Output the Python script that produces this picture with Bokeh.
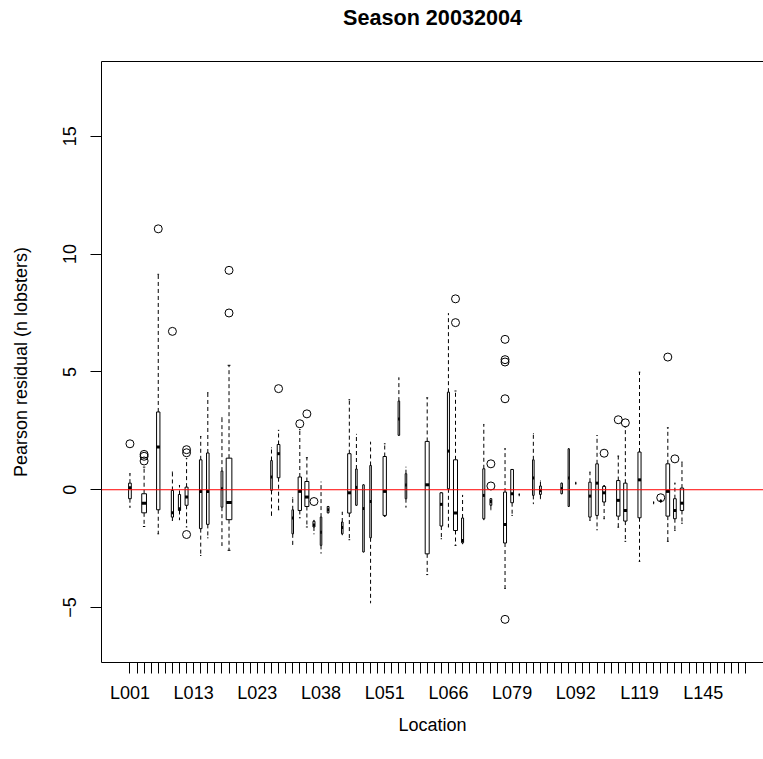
import numpy as np
from bokeh.plotting import figure
from bokeh.models import Range1d, FixedTicker, Span, ColumnDataSource, LinearAxis
from bokeh.embed import file_html
from bokeh.resources import INLINE

# ---------------- data ----------------
title_text = "Season 20032004"
x_title = "Location"
y_title = "Pearson residual (n lobsters)"
n_locations = 88
labelled_locations = {1: "L001", 10: "L013", 19: "L023", 28: "L038", 37: "L051",
                      46: "L066", 55: "L079", 64: "L092", 73: "L119", 82: "L145"}
y_ticks = [-5, 0, 5, 10, 15]

box_loc = [1, 3, 5, 7, 8, 9, 11, 12, 14, 15, 21, 22, 24, 25, 26, 27, 28, 29, 31, 32,
           33, 34, 35, 37, 39, 40, 43, 45, 46, 47, 48, 51, 52, 54, 55, 56, 58, 59, 62, 63,
           64, 66, 67, 68, 70, 71, 73, 75, 76, 77, 78, 79]
box_n = [9, 28, 14, 6, 6, 11, 8, 8, 4, 40, 3, 9, 3, 14, 20, 5, 3, 4, 3, 14,
         3, 3, 3, 14, 3, 3, 20, 9, 5, 20, 5, 5, 4, 11, 9, 1, 3, 4, 3, 2,
         1, 7, 8, 11, 14, 14, 12, 1, 3, 17, 9, 14]
whisker_lo = [-0.74, -1.56, -1.87, -1.30, -1.27, -1.58, -2.79, -2.04, -2.36, -2.57,
              -1.09, -0.85, -2.32, -1.19, -1.58, -1.87, -2.69, -0.98, -1.91, -2.12,
              -0.66, -2.64, -4.80, -1.13, 2.31, -0.74, -3.60, -2.08, -1.58, -2.36,
              -2.29, -1.27, -0.85, -4.19, -1.09, -0.21, -0.59, -0.38, -0.17, -0.71,
              0.28, -1.30, -1.70, -1.23, -1.59, -2.19, -3.04, -0.55, -0.50, -2.19,
              -1.73, -1.42]
q1 = [-0.38, -0.98, -0.85, -1.16, -0.88, -0.66, -1.65, -1.47, -0.74, -1.27,
      -0.03, 0.51, -1.87, -0.88, -0.71, -1.58, -2.36, -0.98, -1.87, -0.99,
      -0.66, -2.64, -2.04, -1.09, 2.31, -0.38, -2.72, -1.54, 0.04, -1.73,
      -2.25, -1.23, -0.66, -2.26, -0.55, -0.21, -0.24, -0.20, -0.17, -0.71,
      0.28, -1.16, -1.09, -0.52, -1.12, -1.33, -1.19, -0.55, -0.50, -1.12,
      -1.23, -0.88]
median = [0.08, -0.57, 1.81, -0.98, -0.81, -0.31, -0.07, -0.07, 0.04, -0.54,
          0.54, 1.53, -1.20, -0.07, -0.31, -1.50, -1.80, -0.85, -1.60, -0.13,
          0.10, -0.80, -0.50, -0.07, 3.00, 0.20, 0.21, -0.62, 1.64, -0.99,
          -2.15, -0.24, -0.50, -1.47, -0.17, -0.21, 0.50, -0.03, 0.05, 0.50,
          0.28, -0.27, 0.28, -0.13, -0.45, -0.88, 0.42, -0.55, -0.48, -0.07,
          -0.88, -0.57]
q3 = [0.28, -0.17, 3.30, -0.03, -0.20, 0.11, 1.27, 1.56, 0.79, 1.34,
      1.24, 1.92, -0.85, 0.54, 0.35, -1.34, -1.16, -0.71, -1.37, 1.53,
      0.88, 0.21, 1.03, 1.41, 3.76, 0.68, 2.05, -0.13, 4.14, 1.27,
      -1.20, 0.89, -0.38, -0.10, 0.86, -0.21, 1.27, 0.16, 0.28, 1.74,
      0.28, 0.32, 1.10, 0.14, 0.39, 0.28, 1.60, -0.55, -0.45, 1.10,
      -0.38, 0.07]
whisker_hi = [0.68, 0.96, 9.14, 0.75, 0.18, 1.32, 2.26, 4.12, 3.06, 5.28,
              1.78, 2.52, -0.34, 2.55, 1.36, -1.30, 0.33, -0.71, -0.95, 3.82,
              2.35, 0.21, 2.02, 1.95, 4.75, 0.96, 3.90, -0.13, 7.47, 4.19,
              -0.24, 2.77, -0.38, 1.74, 0.86, -0.21, 2.38, 0.37, 0.28, 1.74,
              0.28, 0.75, 2.30, 0.18, 1.43, 2.66, 4.99, -0.55, -0.45, 2.63,
              0.28, 1.17]

outlier_loc = [1, 3, 3, 3, 5, 7, 9, 9, 9, 15, 15, 22, 25, 26, 27, 47, 47, 52, 52,
               54, 54, 54, 54, 54, 68, 70, 71, 76, 77, 78]
outlier_val = [1.95, 1.50, 1.42, 1.22, 11.07, 6.72, 1.70, 1.57, -1.90, 9.31, 7.50,
               4.29, 2.80, 3.22, -0.50, 8.10, 7.09, 1.10, 0.16,
               6.38, 5.52, 5.42, 3.86, -5.50, 1.55, 2.97, 2.84, -0.34, 5.63, 1.31]

# ---------------- derived geometry (R boxplot, varwidth=TRUE) ----------------
loc = np.array(box_loc, dtype=float)
width = 0.8 * np.sqrt(np.array(box_n, dtype=float)) / np.sqrt(max(box_n))
boxes = ColumnDataSource(dict(
    left=loc - width / 2, right=loc + width / 2,
    lo=whisker_lo, q1=q1, med=median, q3=q3, hi=whisker_hi,
    x=loc, sl=loc - width / 4, sr=loc + width / 4))

FONT = "Liberation Sans"

p = figure(width=763, height=759, output_backend="svg", toolbar_location=None,
           x_range=Range1d(-3.02, 90.52), y_range=Range1d(-7.33, 18.17),
           min_border_left=101, min_border_right=0, min_border_top=61,
           min_border_bottom=97)
p.outline_line_color = None
p.xgrid.visible = False
p.ygrid.visible = False
p.background_fill_color = "white"
p.border_fill_color = "white"

# whiskers (dashed) and staples
p.segment(x0="x", y0="q3", x1="x", y1="hi", source=boxes, line_color="black",
          line_width=1, line_dash="4 3")
p.segment(x0="x", y0="q1", x1="x", y1="lo", source=boxes, line_color="black",
          line_width=1, line_dash="4 3")
p.segment(x0="sl", y0="hi", x1="sr", y1="hi", source=boxes, line_color="black", line_width=1)
p.segment(x0="sl", y0="lo", x1="sr", y1="lo", source=boxes, line_color="black", line_width=1)
# boxes
p.quad(left="left", right="right", bottom="q1", top="q3", source=boxes,
       fill_color="white", line_color="black", line_width=1)
# medians
p.segment(x0="left", y0="med", x1="right", y1="med", source=boxes,
          line_color="black", line_width=3)
# outliers
p.scatter(x=outlier_loc, y=outlier_val, marker="circle", size=8,
          fill_color=None, line_color="black", line_width=1)

# zero reference line
p.add_layout(Span(location=0, dimension="width", line_color="red", line_width=1))

# axes
xa = p.xaxis[0]
xa.ticker = FixedTicker(ticks=list(range(1, n_locations + 1)))
xa.major_label_overrides = {i: labelled_locations.get(i, "") for i in range(1, n_locations + 1)}
xa.minor_tick_line_color = None
xa.major_tick_in = 0
xa.major_tick_out = 11
xa.major_label_standoff = 9
xa.major_label_text_font = FONT
xa.major_label_text_font_size = "18px"
xa.major_label_text_color = "black"
xa.axis_label = x_title
xa.axis_label_text_font = FONT
xa.axis_label_text_font_size = "18px"
xa.axis_label_text_font_style = "normal"
xa.axis_label_text_color = "black"
xa.axis_label_standoff = 9
xa.axis_line_color = "black"

ya = p.yaxis[0]
ya.ticker = FixedTicker(ticks=y_ticks)
ya.minor_tick_line_color = None
ya.major_tick_in = 0
ya.major_tick_out = 11
ya.major_label_orientation = "vertical"
ya.major_label_standoff = 14
ya.major_label_text_font = FONT
ya.major_label_text_font_size = "18px"
ya.major_label_text_color = "black"
ya.axis_label = y_title
ya.axis_label_text_font = FONT
ya.axis_label_text_font_size = "18px"
ya.axis_label_text_font_style = "normal"
ya.axis_label_text_color = "black"
ya.axis_label_standoff = 30
ya.axis_line_color = "black"

# top frame line, which also carries the main title
top = LinearAxis(ticker=FixedTicker(ticks=[]), major_tick_out=0, major_tick_in=0,
                 minor_tick_out=0, minor_tick_in=0, major_label_standoff=0,
                 major_label_text_font_size="0px", axis_line_color="black",
                 axis_label=title_text, axis_label_text_font=FONT,
                 axis_label_text_font_size="21.6px", axis_label_text_font_style="bold",
                 axis_label_text_color="black", axis_label_standoff=32)
p.add_layout(top, "above")

open("out.html", "w").write(file_html(p, INLINE))
